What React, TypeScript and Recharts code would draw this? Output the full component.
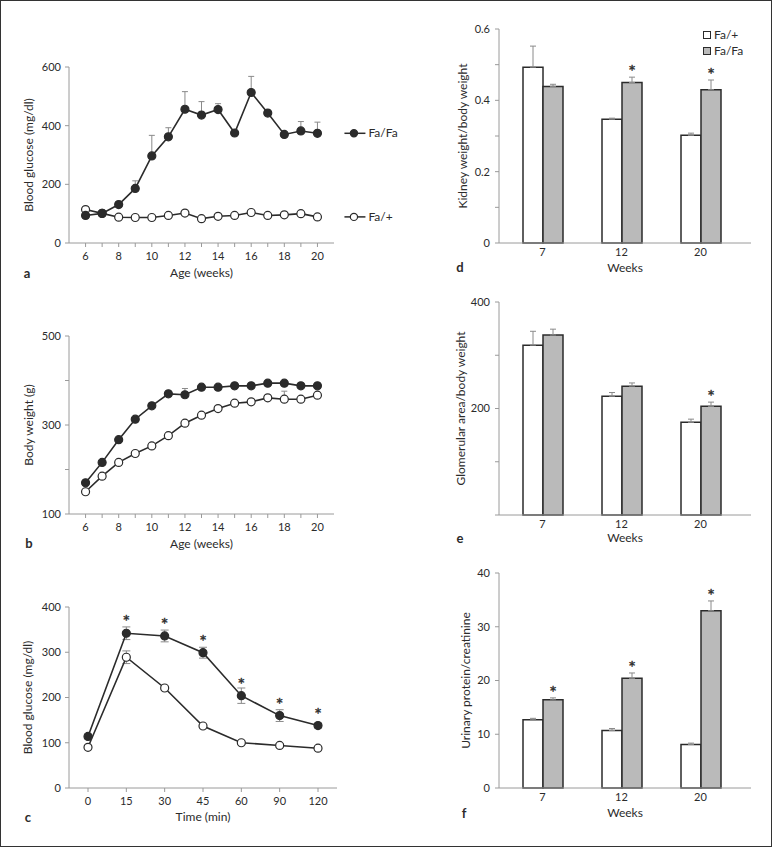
import React from 'react';
import { LineChart, Line, XAxis, YAxis, ErrorBar, LabelList, BarChart, Bar, Legend } from 'recharts';

const FONT = 'Lato, "Noto Sans", sans-serif';
const INK = '#2b2b2b';
const AXIS = '#9a9a9a';
const ERR = '#8a8a8a';
const GREY = '#bababa';

// a: blood glucose vs age
const weeks = [6, 7, 8, 9, 10, 11, 12, 13, 14, 15, 16, 17, 18, 19, 20];
const glucoseFaFa = [94, 101, 131, 186, 297, 362, 456, 436, 455, 375, 513, 443, 370, 382, 374];
const glucoseFaFaSd = [4, 4, 8, 26, 70, 31, 60, 46, 20, 4, 55, 6, 5, 32, 38];
const glucoseFaPlus = [114, 101, 88, 87, 87, 94, 102, 83, 91, 94, 104, 94, 96, 100, 89];
const glucoseFaPlusSd = [4, 3, 3, 3, 3, 3, 4, 3, 3, 3, 4, 3, 3, 4, 3];

// b: body weight vs age
const bodyFaFa = [170, 216, 267, 313, 343, 370, 368, 385, 385, 388, 388, 394, 394, 388, 388];
const bodyFaFaSd = [4, 4, 4, 4, 4, 4, 14, 4, 4, 4, 4, 4, 4, 4, 4];
const bodyFaPlus = [150, 185, 216, 236, 253, 276, 304, 322, 337, 349, 352, 361, 358, 358, 367];
const bodyFaPlusSd = [4, 4, 4, 4, 4, 4, 4, 4, 4, 4, 4, 4, 18, 4, 4];

// c: glucose tolerance
const gttTimes = ['0', '15', '30', '45', '60', '90', '120'];
const gttFaFa = [114, 342, 336, 299, 204, 160, 138];
const gttFaFaSd = [5, 14, 13, 12, 17, 13, 5];
const gttFaPlus = [90, 289, 221, 137, 100, 94, 88];
const gttFaPlusSd = [4, 14, 4, 4, 4, 4, 4];
const gttSig = [false, true, true, true, true, true, true];

// d-f: bar panels
const barWeeks = ['7', '12', '20'];
const kidneyFaPlus = [0.493, 0.347, 0.302];
const kidneyFaPlusSd = [0.059, 0.003, 0.006];
const kidneyFaFa = [0.439, 0.45, 0.43];
const kidneyFaFaSd = [0.006, 0.015, 0.027];
const kidneySig = [false, true, true];

const glomFaPlus = [319, 223, 174];
const glomFaPlusSd = [26, 7, 6];
const glomFaFa = [338, 242, 204];
const glomFaFaSd = [11, 6, 8];
const glomSig = [false, false, true];

const protFaPlus = [12.7, 10.7, 8.1];
const protFaPlusSd = [0.26, 0.37, 0.25];
const protFaFa = [16.4, 20.4, 33.0];
const protFaFaSd = [0.37, 1.0, 1.8];
const protSig = [true, true, true];

const tickStyle = { fill: INK, fontSize: 11, fontFamily: FONT };
const titleStyle = { fill: INK, fontSize: 12, fontFamily: FONT };

const pos = (p: any) => ({
  x: p.x ?? p.viewBox?.x,
  y: p.y ?? p.viewBox?.y,
  width: p.width ?? p.viewBox?.width,
  height: p.height ?? p.viewBox?.height,
});

// series name drawn at the end of a line (panel a)
const endTag = (name: string, filled: boolean, last: number) => (props: any) => {
  if (props.index !== last) return null;
  const { x, y } = pos(props);
  const lx = x + 27;
  return (
    <g>
      <line x1={lx} x2={lx + 21} y1={y} y2={y} stroke={INK} strokeWidth={1.5} />
      <circle cx={lx + 9.5} cy={y} r={3.6} fill={filled ? INK : '#fff'} stroke={INK} strokeWidth={1.2} />
      <text x={lx + 24} y={y} dy="0.35em" fontSize={12} fontFamily={FONT} fill={INK}>{name}</text>
    </g>
  );
};

const Star = ({ x, y }: { x: number; y: number }) => (
  <text x={x} y={y} textAnchor="middle" fontSize={18} fontFamily={FONT} fill={INK} stroke={INK} strokeWidth={0.4}>*</text>
);

const pointStar = (sig: boolean[]) => (props: any) => {
  if (!sig[props.index]) return null;
  const { x, y } = pos(props);
  return <Star x={x} y={y - 5} />;
};

const barStar = (sig: boolean[], sd: number[]) => (props: any) => {
  if (!sig[props.index]) return null;
  const { x, y, width, height } = pos(props);
  const v = Number(props.value);
  const errPx = v ? (sd[props.index] * Math.abs(height)) / v : 0;
  return <Star x={x + width / 2} y={y - errPx + 1} />;
};

const filledDot = { r: 4, fill: INK, stroke: INK, strokeWidth: 1.2 };
const openDot = { r: 4, fill: '#fff', stroke: INK, strokeWidth: 1.2 };

const Letter = ({ ch, cx, cy }: { ch: string; cx: number; cy: number }) => (
  <div style={{ position: 'absolute', left: cx - 10, top: cy - 8, width: 20, height: 16, lineHeight: '16px', textAlign: 'center', fontWeight: 'bold', fontSize: 13, fontFamily: FONT, color: INK }}>{ch}</div>
);

function AgePanel({ top, height, marginTop, xAxisHeight, titleOffset, yTitle, yDomain, yTicks, yLabels, faFa, faFaSd, faPlus, faPlusSd, tags }: any) {
  const data = weeks.map((week, i) => ({
    week,
    faFa: faFa[i],
    faFaErr: [0, faFaSd[i]],
    faPlus: faPlus[i],
    faPlusErr: [0, faPlusSd[i]],
  }));
  return (
    <div style={{ position: 'absolute', left: 0, top }}>
      <LineChart width={400} height={height} data={data} margin={{ top: marginTop, right: 66, left: 0, bottom: 0 }}>
        <XAxis
          dataKey="week"
          type="number"
          domain={[5, 21]}
          ticks={weeks}
          tickFormatter={(v: number) => (v % 2 === 0 ? String(v) : '')}
          height={xAxisHeight}
          stroke={AXIS}
          tickSize={4}
          tickMargin={5}
          tick={tickStyle}
          label={{ value: 'Age (weeks)', position: 'insideBottom', offset: titleOffset, style: titleStyle }}
        />
        <YAxis
          type="number"
          domain={yDomain}
          ticks={yTicks}
          tickFormatter={(v: number) => (yLabels.includes(v) ? String(v) : '')}
          width={69}
          stroke={AXIS}
          tickSize={4}
          tickMargin={4}
          tick={tickStyle}
          label={{ value: yTitle, angle: -90, position: 'insideLeft', offset: 29, style: { ...titleStyle, textAnchor: 'middle' } }}
        />
        <Line dataKey="faPlus" name="Fa/+" stroke={INK} strokeWidth={1.6} dot={openDot} activeDot={false} isAnimationActive={false}>
          <ErrorBar dataKey="faPlusErr" width={3} stroke={ERR} strokeWidth={1} direction="y" />
          {tags && <LabelList dataKey="faPlus" content={endTag('Fa/+', false, weeks.length - 1)} />}
        </Line>
        <Line dataKey="faFa" name="Fa/Fa" stroke={INK} strokeWidth={1.6} dot={filledDot} activeDot={false} isAnimationActive={false}>
          <ErrorBar dataKey="faFaErr" width={3} stroke={ERR} strokeWidth={1} direction="y" />
          {tags && <LabelList dataKey="faFa" content={endTag('Fa/Fa', true, weeks.length - 1)} />}
        </Line>
      </LineChart>
    </div>
  );
}

function GttPanel() {
  const data = gttTimes.map((time, i) => ({
    time,
    faFa: gttFaFa[i],
    faFaErr: gttFaFaSd[i],
    faPlus: gttFaPlus[i],
    faPlusErr: gttFaPlusSd[i],
  }));
  return (
    <div style={{ position: 'absolute', left: 0, top: 570 }}>
      <LineChart width={395} height={260} data={data} margin={{ top: 37, right: 58, left: 0, bottom: 0 }}>
        <XAxis
          dataKey="time"
          height={42}
          stroke={AXIS}
          tickSize={4}
          tickMargin={5}
          tick={tickStyle}
          padding={{ left: 19, right: 19 }}
          label={{ value: 'Time (min)', position: 'insideBottom', offset: 9, style: titleStyle }}
        />
        <YAxis
          type="number"
          domain={[0, 400]}
          ticks={[0, 100, 200, 300, 400]}
          width={69}
          stroke={AXIS}
          tickSize={4}
          tickMargin={4}
          tick={tickStyle}
          label={{ value: 'Blood glucose (mg/dl)', angle: -90, position: 'insideLeft', offset: 28, style: { ...titleStyle, textAnchor: 'middle' } }}
        />
        <Line dataKey="faPlus" name="Fa/+" stroke={INK} strokeWidth={1.6} dot={openDot} activeDot={false} isAnimationActive={false}>
          <ErrorBar dataKey="faPlusErr" width={4} stroke={ERR} strokeWidth={1} direction="y" />
        </Line>
        <Line dataKey="faFa" name="Fa/Fa" stroke={INK} strokeWidth={1.6} dot={filledDot} activeDot={false} isAnimationActive={false}>
          <ErrorBar dataKey="faFaErr" width={4} stroke={ERR} strokeWidth={1} direction="y" />
          <LabelList dataKey="faFa" content={pointStar(gttSig)} />
        </Line>
      </LineChart>
    </div>
  );
}

const barFills: Record<string, string> = { faPlus: '#ffffff', faFa: GREY };

const BarLegend = (props: any) => (
  <div style={{ fontFamily: FONT, fontSize: 12, color: INK, lineHeight: '16px' }}>
    {(props.payload || []).map((p: any) => (
      <div key={p.value} style={{ display: 'flex', alignItems: 'center', height: 16 }}>
        <span style={{ display: 'inline-block', width: 8, height: 8, boxSizing: 'border-box', border: `1px solid ${INK}`, background: barFills[p.dataKey], marginRight: 3 }} />
        {p.value}
      </div>
    ))}
  </div>
);

function BarPanel({ top, height, marginTop, xAxisHeight, titleOffset, yTitle, yTitleOffset, yDomain, yTicks, yLabels, faPlus, faPlusSd, faFa, faFaSd, sig, legend }: any) {
  const data = barWeeks.map((week, i) => ({
    week,
    faPlus: faPlus[i],
    faPlusErr: [0, faPlusSd[i]],
    faFa: faFa[i],
    faFaErr: [0, faFaSd[i]],
  }));
  return (
    <div style={{ position: 'absolute', left: 400, top }}>
      <BarChart width={373} height={height} data={data} margin={{ top: marginTop, right: 22, left: 0, bottom: 0 }} barSize={20} barGap={0}>
        <XAxis
          dataKey="week"
          height={xAxisHeight}
          stroke={AXIS}
          tickLine={false}
          tickSize={0}
          tickMargin={5}
          tick={tickStyle}
          padding={{ left: 4, right: 11 }}
          label={{ value: 'Weeks', position: 'insideBottom', offset: titleOffset, style: titleStyle }}
        />
        <YAxis
          type="number"
          domain={yDomain}
          ticks={yTicks}
          tickFormatter={(v: number, i: number) => (yLabels[i] ? String(v) : '')}
          width={99}
          stroke={AXIS}
          tickSize={4}
          tickMargin={5}
          tick={tickStyle}
          label={{ value: yTitle, angle: -90, position: 'insideLeft', offset: yTitleOffset, style: { ...titleStyle, textAnchor: 'middle' } }}
        />
        {legend && (
          <Legend layout="vertical" align="center" verticalAlign="middle" content={BarLegend} wrapperStyle={{ left: 303, top: 17, width: 70, height: 34 }} />
        )}
        <Bar dataKey="faPlus" name="Fa/+" fill={barFills.faPlus} stroke={INK} strokeWidth={1.5} isAnimationActive={false}>
          <ErrorBar dataKey="faPlusErr" width={3} stroke={ERR} strokeWidth={1} direction="y" />
        </Bar>
        <Bar dataKey="faFa" name="Fa/Fa" fill={barFills.faFa} stroke={INK} strokeWidth={1.5} isAnimationActive={false}>
          <ErrorBar dataKey="faFaErr" width={3} stroke={ERR} strokeWidth={1} direction="y" />
          <LabelList dataKey="faFa" content={barStar(sig, faFaSd)} />
        </Bar>
      </BarChart>
    </div>
  );
}

export default function App() {
  return (
    <div style={{ position: 'absolute', left: 0, top: 0, width: 773, height: 848, background: '#fff', fontFamily: FONT }}>
      <div style={{ position: 'absolute', left: 0, top: 0, width: 772, height: 847, border: '1px solid #333', boxSizing: 'border-box' }} />
      <AgePanel
        top={40} height={250} marginTop={27} xAxisHeight={47} titleOffset={13}
        yTitle="Blood glucose (mg/dl)" yDomain={[0, 600]} yTicks={[0, 200, 400, 600]} yLabels={[0, 200, 400, 600]}
        faFa={glucoseFaFa} faFaSd={glucoseFaFaSd} faPlus={glucoseFaPlus} faPlusSd={glucoseFaPlusSd} tags
      />
      <AgePanel
        top={300} height={260} marginTop={36} xAxisHeight={46} titleOffset={12}
        yTitle="Body weight (g)" yDomain={[100, 500]} yTicks={[100, 200, 300, 400, 500]} yLabels={[100, 300, 500]}
        faFa={bodyFaFa} faFaSd={bodyFaFaSd} faPlus={bodyFaPlus} faPlusSd={bodyFaPlusSd}
      />
      <GttPanel />
      <BarPanel
        top={10} height={280} marginTop={19} xAxisHeight={47} titleOffset={18}
        yTitle="Kidney weight/body weight" yTitleOffset={63}
        yDomain={[0, 0.6]} yTicks={[0, 0.1, 0.2, 0.3, 0.4, 0.5, 0.6]} yLabels={[true, false, true, false, true, false, true]}
        faPlus={kidneyFaPlus} faPlusSd={kidneyFaPlusSd} faFa={kidneyFaFa} faFaSd={kidneyFaFaSd} sig={kidneySig} legend
      />
      <BarPanel
        top={290} height={270} marginTop={12} xAxisHeight={45} titleOffset={18}
        yTitle="Glomerular area/body weight" yTitleOffset={61}
        yDomain={[0, 400]} yTicks={[0, 100, 200, 300, 400]} yLabels={[false, false, true, false, true]}
        faPlus={glomFaPlus} faPlusSd={glomFaPlusSd} faFa={glomFaFa} faFaSd={glomFaFaSd} sig={glomSig}
      />
      <BarPanel
        top={550} height={275} marginTop={23} xAxisHeight={37} titleOffset={8}
        yTitle="Urinary protein/creatinine" yTitleOffset={66}
        yDomain={[0, 40]} yTicks={[0, 10, 20, 30, 40]} yLabels={[true, true, true, true, true]}
        faPlus={protFaPlus} faPlusSd={protFaPlusSd} faFa={protFaFa} faFaSd={protFaFaSd} sig={protSig}
      />
      <Letter ch="a" cx={27} cy={273} />
      <Letter ch="b" cx={29} cy={543} />
      <Letter ch="c" cx={28} cy={817} />
      <Letter ch="d" cx={460} cy={267} />
      <Letter ch="e" cx={460} cy={538} />
      <Letter ch="f" cx={464} cy={813} />
    </div>
  );
}
